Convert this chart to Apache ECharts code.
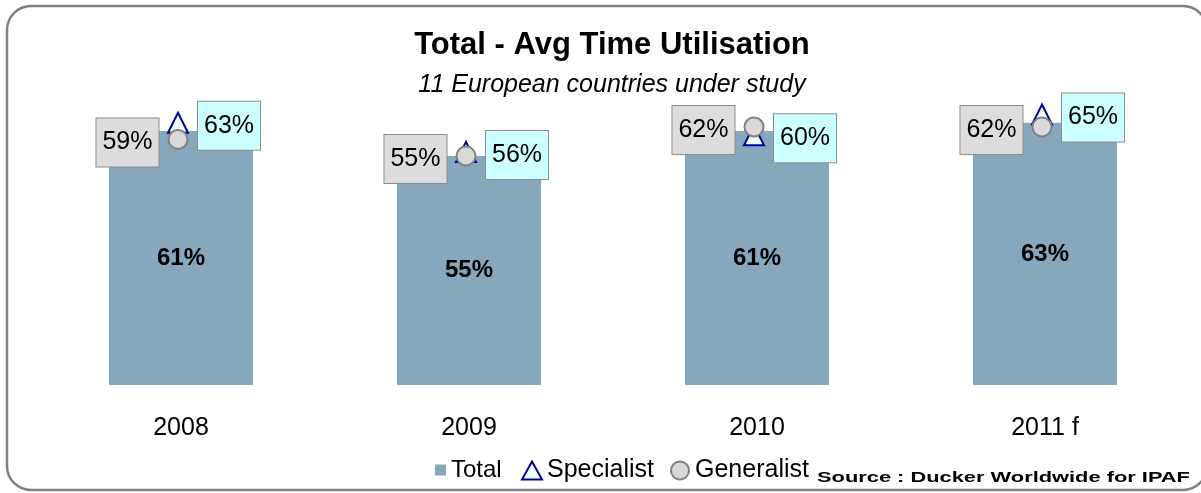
<!DOCTYPE html>
<html>
<head>
<meta charset="utf-8">
<title>Total - Avg Time Utilisation</title>
<script src="https://cdn.jsdelivr.net/npm/echarts@6/dist/echarts.min.js"></script>
<style>
    html, body { margin: 0; padding: 0; background: #fff; }
    #chart { width: 1201px; height: 493px; }
</style>
</head>
<body>
<div id="chart"></div>
<script>
// ======================
// DATA
// ======================

const years = ['2008', '2009', '2010', '2011 f'];
const totalValues = [61, 55, 61, 63];
const specialistValues = [63, 56, 60, 65];
const generalistValues = [59, 55, 62, 62];

const titleText = 'Total - Avg Time Utilisation';
const subtitleText = '11 European countries under study';
const sourceText = 'Source : Ducker Worldwide for IPAF';

// ======================
// STYLE
// ======================

const FONT = 'Liberation Sans, Arial, sans-serif';
const BAR_COLOR = '#86a7bc';
const pct = p => p.value + '%';

const chart = echarts.init(document.getElementById('chart'), null, { renderer: 'canvas' });

// boxed value label next to a marker (left = generalist, right = specialist)
function boxLabel(position, bg) {
    return {
        show: true,
        position: position,
        distance: 9,
        offset: [0, 3],
        formatter: pct,
        color: '#000',
        opacity: 1,
        fontFamily: FONT,
        fontSize: 25,
        backgroundColor: bg,
        borderColor: '#8c8c8c',
        borderWidth: 1,
        padding: [12, 6, 11, 6],
    };
}

const option = {
    animation: false,
    title: [
        {
            text: titleText,
            left: 607,
            top: 25,
            textAlign: 'center',
            textStyle: { fontFamily: FONT, fontSize: 31, fontWeight: 'bold', color: '#000' },
        },
        {
            text: subtitleText,
            left: 607,
            top: 68,
            textAlign: 'center',
            textStyle: { fontFamily: FONT, fontSize: 25, fontStyle: 'italic', fontWeight: 'normal', color: '#000' },
        },
    ],
    legend: [
        {
            data: [{ name: 'Total', icon: 'rect' }],
            left: 430,
            top: 453,
            itemWidth: 11,
            itemHeight: 11,
            textStyle: { fontFamily: FONT, fontSize: 24, color: '#000' },
        },
        {
            data: ['Specialist', 'Generalist'],
            left: 516,
            top: 453,
            itemWidth: 20,
            itemHeight: 18,
            itemGap: 16,
            textStyle: { fontFamily: FONT, fontSize: 25, color: '#000' },
        },
    ],
    grid: { left: 37, right: 12, top: 52, bottom: 108 },
    xAxis: {
        type: 'category',
        data: years,
        axisLine: { show: false },
        axisTick: { show: false },
        axisLabel: { color: '#000', fontFamily: FONT, fontSize: 25, margin: 31 },
    },
    yAxis: {
        type: 'value',
        min: 0,
        max: 80,
        show: false,
    },
    series: [
        {
            name: 'Total',
            type: 'bar',
            data: totalValues,
            barWidth: 144,
            itemStyle: { color: BAR_COLOR },
            label: {
                show: true,
                position: 'inside',
                formatter: pct,
                color: '#000',
                fontFamily: FONT,
                fontSize: 24,
                fontWeight: 'bold',
            },
        },
        {
            name: 'Specialist',
            type: 'scatter',
            data: specialistValues,
            symbol: 'triangle',
            symbolSize: [20, 20],
            symbolOffset: [-3, 0],
            itemStyle: { color: '#f2ffff', borderColor: '#000099', borderWidth: 2, opacity: 1 },
            label: boxLabel('right', '#ccffff'),
            z: 3,
        },
        {
            name: 'Generalist',
            type: 'scatter',
            data: generalistValues,
            symbol: 'circle',
            symbolSize: 19,
            symbolOffset: [-3, 0],
            itemStyle: { color: '#d9d9d9', borderColor: '#808080', borderWidth: 2, opacity: 1 },
            label: boxLabel('left', '#dcdcdc'),
            z: 4,
        },
    ],
    graphic: [
        {
            type: 'rect',
            shape: { x: 7, y: 6, width: 1200, height: 484, r: 24 },
            style: { fill: 'none', stroke: '#7f7f7f', lineWidth: 2.5 },
            z: -1,
            silent: true,
        },
        {
            type: 'text',
            x: 817,
            y: 478,
            scaleX: 1.56,
            style: {
                text: sourceText,
                font: 'bold 14px ' + FONT,
                fill: '#000',
                textVerticalAlign: 'middle',
            },
            silent: true,
        },
    ],
};

chart.setOption(option);
</script>
</body>
</html>
